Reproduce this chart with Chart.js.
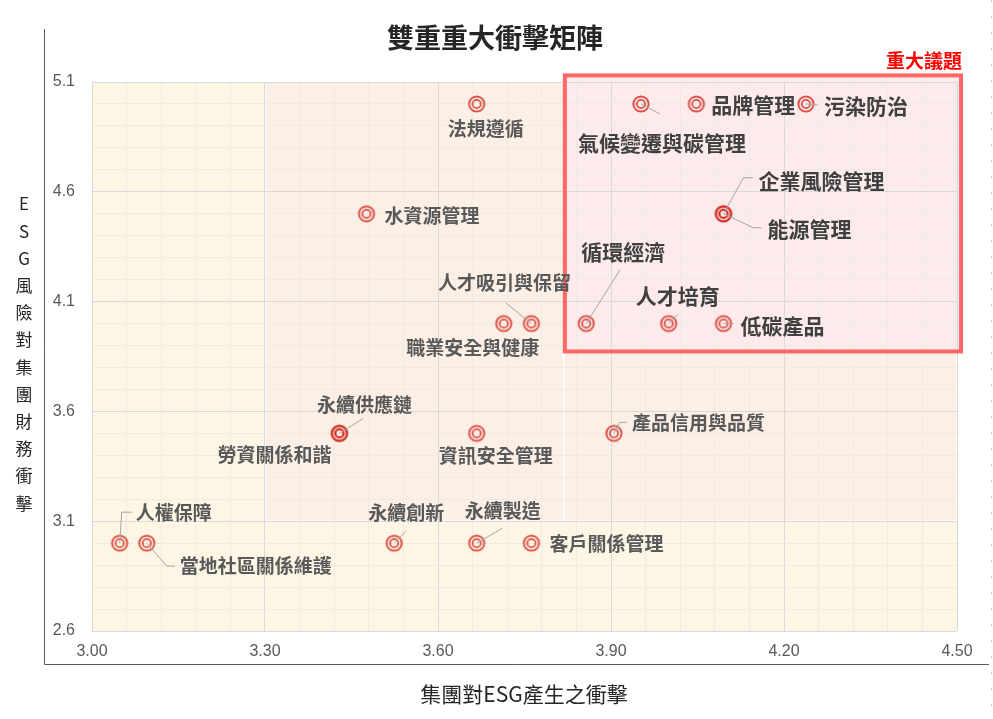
<!DOCTYPE html>
<html>
<head>
<meta charset="utf-8">
<script src="https://cdn.jsdelivr.net/npm/chart.js@4/dist/chart.umd.min.js"></script>
<style>
html, body { margin: 0; padding: 0; background: #fff; }
canvas { display: block; }
</style>
</head>
<body>
<canvas id="matrix" width="993" height="719"></canvas>
<script>
const chartTitle = '雙重重大衝擊矩陣';
const xTitle = '集團對ESG產生之衝擊';
const yTitle = 'ESG風險對集團財務衝擊';
const boxTitle = '重大議題';

const topics = [
    '法規遵循', '氣候變遷與碳管理', '品牌管理', '污染防治',
    '水資源管理', '企業風險管理', '能源管理',
    '人才吸引與保留', '職業安全與健康', '循環經濟', '人才培育', '低碳產品',
    '永續供應鏈', '勞資關係和諧', '資訊安全管理', '產品信用與品質',
    '人權保障', '當地社區關係維護', '永續創新', '永續製造', '客戶關係管理'
];
const impactOnEsg = [
    3.667, 3.952, 4.048, 4.238,
    3.476, 4.095, 4.095,
    3.762, 3.714, 3.857, 4.000, 4.095,
    3.429, 3.429, 3.667, 3.905,
    3.048, 3.095, 3.524, 3.667, 3.762
];
const financialImpact = [
    5.0, 5.0, 5.0, 5.0,
    4.5, 4.5, 4.5,
    4.0, 4.0, 4.0, 4.0, 4.0,
    3.5, 3.5, 3.5, 3.5,
    3.0, 3.0, 3.0, 3.0, 3.0
];
const xTickValues = [3.0, 3.3, 3.6, 3.9, 4.2, 4.5];
const xTickLabels = ['3.00', '3.30', '3.60', '3.90', '4.20', '4.50'];
const yTickValues = [2.6, 3.1, 3.6, 4.1, 4.6, 5.1];
const yTickLabels = ['2.6', '3.1', '3.6', '4.1', '4.6', '5.1'];

// labels inside the material box are drawn larger
const bigLabels = [1, 2, 3, 5, 6, 9, 10, 11];

// where each label sits relative to its marker (px), plus leader line bends
const labelPlace = [
    { dx: 9, dy: 25, align: 'center' },
    { dx: -63, dy: 39, align: 'left', line: [[19, 10]] },
    { dx: 15, dy: 1, align: 'left' },
    { dx: 18, dy: 2, align: 'left', line: [[12, 1]] },
    { dx: 18, dy: 2, align: 'left' },
    { dx: 35, dy: -33, align: 'left', line: [[20, -36], [29, -36]] },
    { dx: 44, dy: 15, align: 'left', line: [[30, 14], [38, 14]] },
    { dx: -27, dy: -41, align: 'center', line: [[-26, -21]] },
    { dx: -31, dy: 24, align: 'center' },
    { dx: 37, dy: -72, align: 'center', line: [[34, -54]] },
    { dx: 9, dy: -28, align: 'center', line: [[9, -9]] },
    { dx: 17, dy: 2, align: 'left', line: [[10, 0]] },
    { dx: 25, dy: -29, align: 'center', line: [[24, -15]] },
    { dx: -65, dy: 21, align: 'center' },
    { dx: 19, dy: 22, align: 'center' },
    { dx: 18, dy: -11, align: 'left', line: [[6, -11], [13, -11]] },
    { dx: 16, dy: -30, align: 'left', line: [[2, -31], [12, -31]] },
    { dx: 33, dy: 23, align: 'left', line: [[20, 23], [28, 23]] },
    { dx: 12, dy: -30, align: 'center', line: [[12, -12]] },
    { dx: 26, dy: -32, align: 'center', line: [[26, -15]] },
    { dx: 18, dy: 1, align: 'left' }
];

const CJK = '"Noto Sans CJK TC", "Noto Sans CJK SC", sans-serif';
const NUMF = '"Liberation Sans", Arial, sans-serif';

function make_marker() {
    const c = document.createElement('canvas');
    c.width = 22;
    c.height = 22;
    const g = c.getContext('2d');
    g.strokeStyle = 'rgba(210, 30, 20, 0.75)';
    g.lineWidth = 2;
    g.beginPath();
    g.arc(11, 11, 7.6, 0, 2 * Math.PI);
    g.stroke();
    g.lineWidth = 1.8;
    g.beginPath();
    g.arc(11, 11, 4.1, 0, 2 * Math.PI);
    g.stroke();
    return c;
}

function subdivide(majors, n) {
    let out = [];
    for (let i = 0; i < majors.length - 1; i++) {
        for (let k = 0; k < n; k++) {
            out.push(majors[i] + (majors[i + 1] - majors[i]) * k / n);
        }
    }
    out.push(majors[majors.length - 1]);
    return out;
}

function major_index(v, majors) {
    return majors.findIndex(m => Math.abs(m - v) < 1e-6);
}

const decor = {
    id: 'decor',
    beforeDraw(chart) {
        const ctx = chart.ctx;
        const xs = chart.scales.x, ys = chart.scales.y;
        const a = chart.chartArea;
        const box = (x0, y0, x1, y1) => {
            const l = xs.getPixelForValue(x0), r = xs.getPixelForValue(x1);
            const t = ys.getPixelForValue(y1), b = ys.getPixelForValue(y0);
            return [l, t, r - l, b - t];
        };
        ctx.save();
        ctx.fillStyle = '#ffffff';
        ctx.fillRect(0, 0, chart.width, chart.height);
        ctx.fillStyle = '#fdf6e4';
        ctx.fillRect(a.left, a.top, a.right - a.left, a.bottom - a.top);
        ctx.fillStyle = '#fcefe6';
        ctx.strokeStyle = '#ffffff';
        ctx.lineWidth = 1.5;
        [box(3.3, 3.1, 3.818, 5.1), box(3.818, 3.1, 4.5, 3.873)].forEach(r => {
            ctx.fillRect(...r);
            ctx.strokeRect(...r);
        });
        ctx.fillStyle = '#fdeaea';
        ctx.fillRect(...box(3.82, 3.873, 4.507, 5.13));
        ctx.restore();
    },
    afterDraw(chart) {
        const ctx = chart.ctx;
        const xs = chart.scales.x, ys = chart.scales.y;
        ctx.save();

        // material topics box
        const l = xs.getPixelForValue(3.82), r = xs.getPixelForValue(4.507);
        const t = ys.getPixelForValue(5.13), b = ys.getPixelForValue(3.873);
        ctx.strokeStyle = '#ff6666';
        ctx.lineWidth = 4;
        ctx.strokeRect(l, t, r - l, b - t);

        // frame
        ctx.strokeStyle = '#595959';
        ctx.lineWidth = 1;
        ctx.beginPath();
        ctx.moveTo(44.5, 29);
        ctx.lineTo(44.5, 664.5);
        ctx.lineTo(989, 664.5);
        ctx.stroke();
        ctx.strokeStyle = '#c8c8c8';
        ctx.setLineDash([2, 14]);
        ctx.beginPath();
        ctx.moveTo(991.5, 0);
        ctx.lineTo(991.5, 719);
        ctx.stroke();
        ctx.setLineDash([]);

        // point labels with leader lines
        const meta = chart.getDatasetMeta(0);
        ctx.textBaseline = 'middle';
        meta.data.forEach((pt, i) => {
            const p = labelPlace[i];
            if (p.line) {
                ctx.strokeStyle = '#a6a6a6';
                ctx.lineWidth = 1;
                ctx.beginPath();
                ctx.moveTo(pt.x, pt.y);
                p.line.forEach(q => ctx.lineTo(pt.x + q[0], pt.y + q[1]));
                ctx.stroke();
            }
            const big = bigLabels.includes(i);
            ctx.font = (big ? 'bold 21px ' : 'bold 19px ') + CJK;
            ctx.fillStyle = big ? '#404040' : '#595959';
            ctx.textAlign = p.align;
            ctx.fillText(topics[i], pt.x + p.dx, pt.y + p.dy);
        });

        // titles
        ctx.textAlign = 'center';
        ctx.fillStyle = '#262626';
        ctx.font = 'bold 27px ' + CJK;
        ctx.fillText(chartTitle, 495, 38);

        ctx.fillStyle = '#262626';
        ctx.font = '21px ' + CJK;
        ctx.fillText(xTitle, 524, 694);

        ctx.font = '17px ' + CJK;
        Array.from(yTitle).forEach((ch, i) => {
            ctx.fillText(ch, 24, 204 + i * 27.2);
        });

        ctx.textAlign = 'right';
        ctx.fillStyle = '#ff0000';
        ctx.font = 'bold 19px ' + CJK;
        ctx.fillText(boxTitle, 962, 61);

        ctx.restore();
    }
};

const points = topics.map((t, i) => ({ x: impactOnEsg[i], y: financialImpact[i] }));

const ctx = document.getElementById('matrix').getContext('2d');
new Chart(ctx, {
    type: 'scatter',
    data: {
        datasets: [{
            data: points,
            pointStyle: make_marker(),
            pointRadius: 8,
            pointHoverRadius: 8
        }]
    },
    options: {
        responsive: false,
        animation: false,
        events: [],
        layout: { padding: { top: 82, right: 36, bottom: 58, left: 0 } },
        plugins: { legend: { display: false }, tooltip: { enabled: false } },
        scales: {
            x: {
                type: 'linear',
                min: 3.0,
                max: 4.5,
                afterBuildTicks: s => { s.ticks = subdivide(xTickValues, 5).map(v => ({ value: v })); },
                afterFit: s => { s.height = 30; },
                border: { display: false },
                grid: {
                    drawTicks: false,
                    color: c => major_index(c.tick.value, xTickValues) >= 0 ? '#d9d9d9' : '#efebe3'
                },
                ticks: {
                    autoSkip: false,
                    maxRotation: 0,
                    padding: 11,
                    color: '#595959',
                    font: { family: NUMF, size: 16 },
                    callback: v => {
                        const k = major_index(v, xTickValues);
                        return k >= 0 ? xTickLabels[k] : '';
                    }
                }
            },
            y: {
                type: 'linear',
                min: 2.6,
                max: 5.1,
                afterBuildTicks: s => { s.ticks = subdivide(yTickValues, 5).map(v => ({ value: v })); },
                afterFit: s => { s.width = 92; },
                border: { display: false },
                grid: {
                    drawTicks: false,
                    color: c => major_index(c.tick.value, yTickValues) >= 0 ? '#d9d9d9' : '#efebe3'
                },
                ticks: {
                    autoSkip: false,
                    padding: 17,
                    color: '#595959',
                    font: { family: NUMF, size: 16 },
                    callback: v => {
                        const k = major_index(v, yTickValues);
                        return k >= 0 ? yTickLabels[k] : '';
                    }
                }
            }
        }
    },
    plugins: [decor]
});
</script>
</body>
</html>
